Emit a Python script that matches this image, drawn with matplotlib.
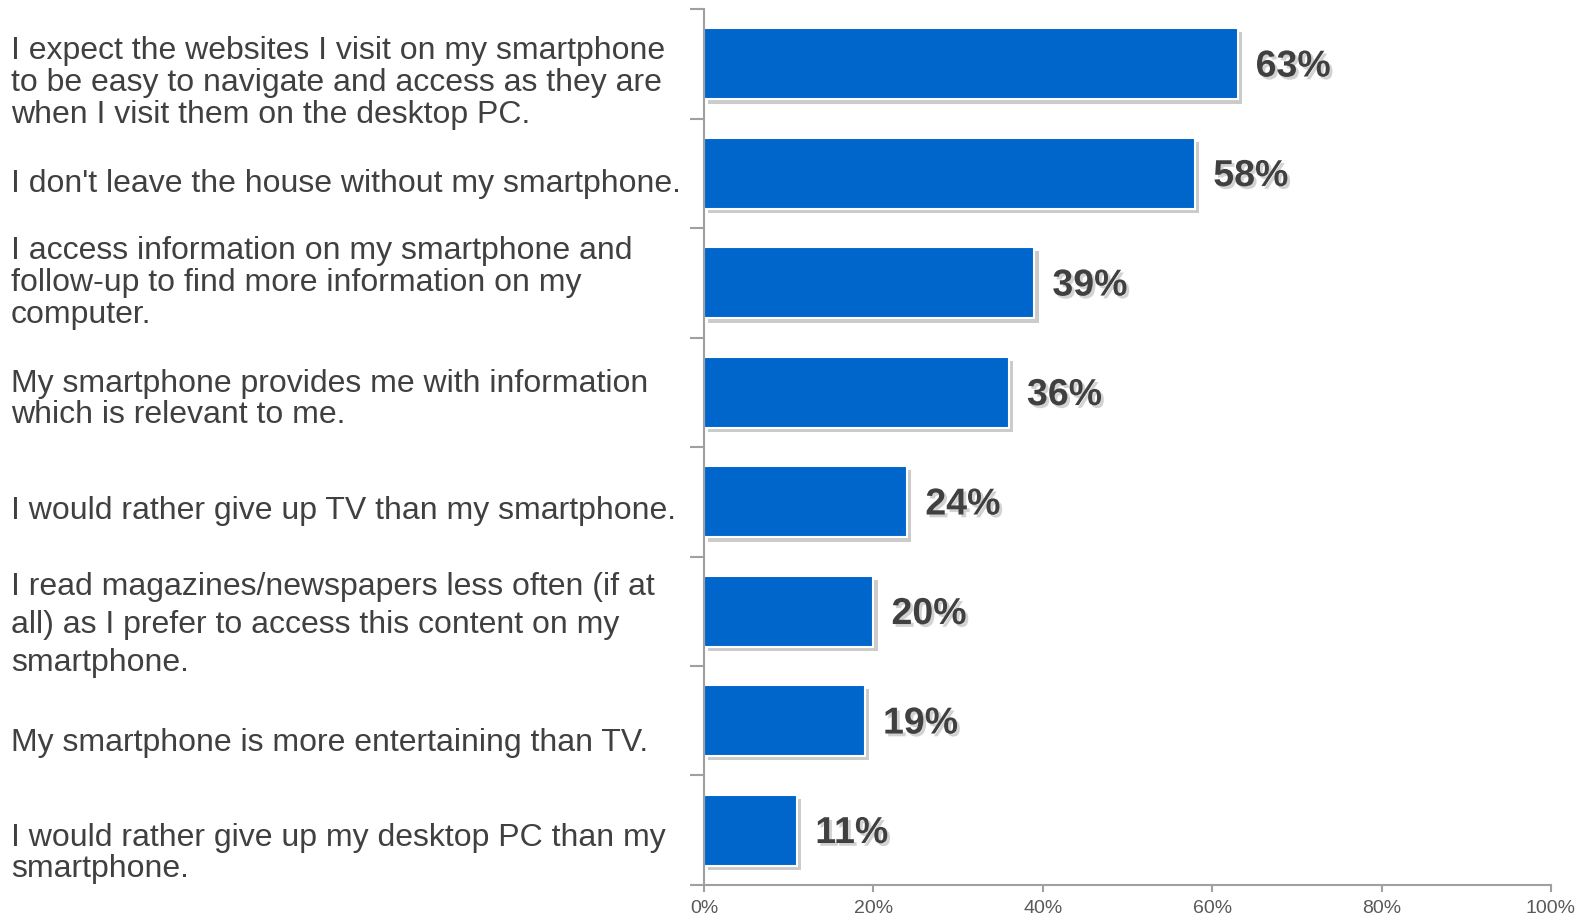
import matplotlib
matplotlib.use("Agg")
import matplotlib.pyplot as plt
import matplotlib.patheffects as pe
import numpy as np

statements = [
    "I expect the websites I visit on my smartphone\nto be easy to navigate and access as they are\nwhen I visit them on the desktop PC.",
    "I don't leave the house without my smartphone.",
    "I access information on my smartphone and\nfollow-up to find more information on my\ncomputer.",
    "My smartphone provides me with information\nwhich is relevant to me.",
    "I would rather give up TV than my smartphone.",
    "I read magazines/newspapers less often (if at\nall) as I prefer to access this content on my\nsmartphone.",
    "My smartphone is more entertaining than TV.",
    "I would rather give up my desktop PC than my\nsmartphone.",
]
share = [63, 58, 39, 36, 24, 20, 19, 11]
xticks = [0, 20, 40, 60, 80, 100]

# per-label vertical nudge (points, positive = down) and line spacing
label_nudge = [14, 8, 0, 5, 7, 10, 16, 17]
label_spacing = [1.08, 1.0, 1.08, 1.06, 1.0, 1.34, 1.0, 1.04]

plt.rcParams['font.family'] = ['Liberation Sans', 'DejaVu Sans']

fig = plt.figure(figsize=(15.85, 9.21), dpi=100)
ax = fig.add_axes([0.4442, 0.0391, 0.5343, 0.9511])

pos = np.arange(len(share)) + 0.5
bars = ax.barh(pos, share, height=0.65, color='#0066CC', edgecolor='white', linewidth=1.5)
for b in bars:
    b.set_path_effects([pe.SimplePatchShadow(offset=(3, -3), shadow_rgbFace='#8c8c8c', alpha=0.45), pe.Normal()])

for y, v in zip(pos, share):
    ax.annotate(f"{v}%", xy=(v, y), xytext=(13, -2), textcoords='offset points',
                va='center', ha='left', fontsize=27, fontweight='bold', color='#404040',
                path_effects=[pe.withSimplePatchShadow(offset=(2, -2), shadow_rgbFace='#a6a6a6', alpha=0.5)])

for y, s, dy, ls in zip(pos, statements, label_nudge, label_spacing):
    ax.annotate(s, xy=(0, y), xycoords=('figure fraction', 'data'), xytext=(8, -dy), textcoords='offset points',
                va='center', ha='left', fontsize=23, color='#404040', linespacing=ls)

ax.set_xlim(0, 100)
ax.set_ylim(len(share), 0)
ax.set_xticks(xticks)
ax.set_xticklabels([f"{x}%" for x in xticks], fontsize=14, color='#595959')
ax.set_yticks(np.arange(len(share) + 1))
ax.set_yticklabels([])
ax.tick_params(axis='y', direction='out', length=10, width=1.5, color='#a0a0a0')
ax.tick_params(axis='x', direction='out', length=5, width=1.5, color='#a0a0a0', pad=6)

for side in ['top', 'right']:
    ax.spines[side].set_visible(False)
for side in ['left', 'bottom']:
    ax.spines[side].set_color('#a0a0a0')
    ax.spines[side].set_linewidth(1.5)

fig.savefig('out.png', dpi=100)
